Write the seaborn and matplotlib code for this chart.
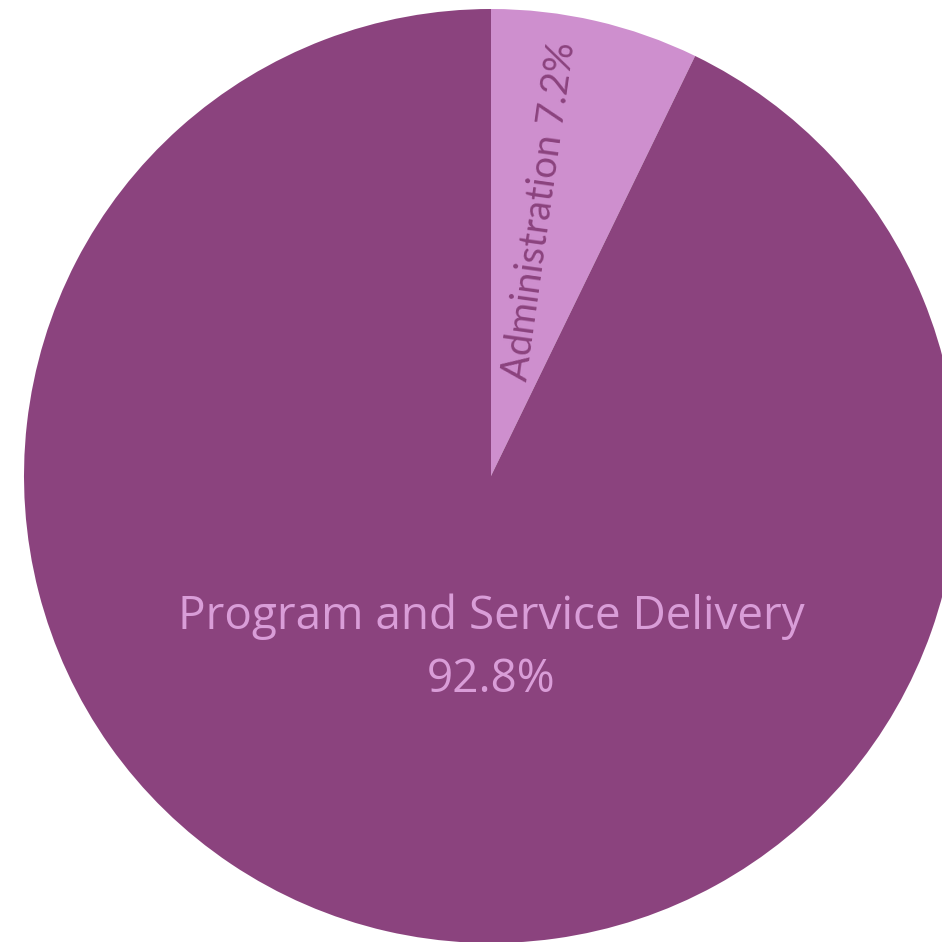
import matplotlib
matplotlib.use("Agg")
import matplotlib.pyplot as plt
import seaborn as sns

sns.set_theme(style="white")

categories = ["Administration", "Program and Service Delivery"]
values = [7.2, 92.8]
colors = ["#CE8FCE", "#8B437E"]
label_colors = ["#8B437E", "#D99DD8"]

fig = plt.figure(figsize=(9.42, 9.42), dpi=100)
ax = fig.add_axes([0, 0, 1, 1])
ax.pie(values, colors=colors, startangle=90, counterclock=False,
       wedgeprops=dict(linewidth=0))
ax.set_aspect("equal")
ax.set_xlim(-491 / 467, (942 - 491) / 467)
ax.set_ylim((476 - 942) / 467, 476 / 467)
ax.axis("off")

ax.text(0.105, 0.567, f"{categories[0]} {values[0]}%", rotation=82,
        rotation_mode="anchor",
        ha="center", va="center", color=label_colors[0], fontsize=27.5,
        family="Lato")
ax.text(0, -0.302, categories[1], ha="center", va="center",
        color=label_colors[1], fontsize=33, family="Open Sans")
ax.text(0, -0.437, f"{values[1]}%", ha="center", va="center",
        color=label_colors[1], fontsize=33, family="Open Sans")

fig.savefig("out.png", dpi=100, facecolor="white")
